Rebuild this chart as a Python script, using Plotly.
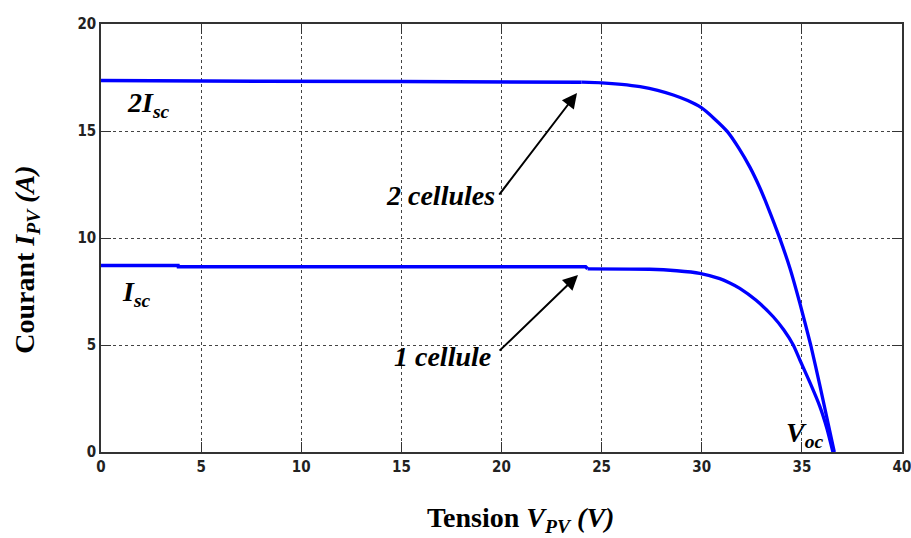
import plotly.graph_objects as go

# Data
v_two = [0, 4, 7.9, 8.0, 15, 20, 24, 25, 26.0, 26.92, 27.8, 28.58, 29.3, 29.96, 30.6, 31.28, 31.85, 32.41,
         32.9, 33.32, 33.87, 34.4, 34.9, 35.44, 35.9, 36.62]
i_two = [17.36, 17.36, 17.36, 17.32, 17.31, 17.3, 17.28, 17.25, 17.18, 17.07, 16.9, 16.68, 16.42, 16.1, 15.6,
         14.97, 14.2, 13.3, 12.35, 11.4, 10.05, 8.6, 6.95, 5.0, 3.1, 0.0]

v_one = [0, 3.85, 3.86, 10, 20, 24.2, 24.3, 27.4, 28.75, 29.9, 30.9, 31.4, 31.9, 32.7, 33.57, 34.1, 34.57,
         34.9, 35.4, 35.9, 36.25, 36.55]
i_one = [8.71, 8.71, 8.66, 8.66, 8.66, 8.66, 8.56, 8.54, 8.47, 8.35, 8.1, 7.9, 7.65, 7.1, 6.32, 5.7, 5.0,
         4.3, 3.25, 2.12, 1.1, 0.0]

x_ticks = [0, 5, 10, 15, 20, 25, 30, 35, 40]
y_ticks = [0, 5, 10, 15, 20]

serif = "Liberation Serif, Times New Roman, serif"
narrow = "DejaVu Sans Condensed, Arial Narrow, sans-serif"

fig = go.Figure()
# flat part drawn straight, knee drawn smooth
for vs, cs, k in [(v_two, i_two, 6), (v_one, i_one, 6)]:
    fig.add_trace(go.Scatter(x=vs[:k + 1], y=cs[:k + 1], mode="lines",
                             line=dict(color="#0000ff", width=3.5), showlegend=False))
    fig.add_trace(go.Scatter(x=vs[k:], y=cs[k:], mode="lines",
                             line=dict(color="#0000ff", width=3.3, shape="spline", smoothing=0.6),
                             showlegend=False))

def label(x, y, text, size=28):
    fig.add_annotation(x=x, y=y, xref="x", yref="y", text=text, showarrow=False,
                       font=dict(family=serif, size=size, color="black"))

label(2.35, 16.25, "<b><i>2I<sub>sc</sub></i></b>")
label(1.75, 7.4, "<b><i>I<sub>sc</sub></i></b>")
label(16.95, 12.0, "<b><i>2 cellules</i></b>")
label(17.05, 4.45, "<b><i>1 cellule</i></b>")
label(35.15, 0.8, "<b><i>V<sub>oc</sub></i></b>")

for tip, tail in [((23.77, 16.78), (19.83, 11.96)), ((23.82, 8.27), (19.83, 4.67))]:
    fig.add_annotation(x=tip[0], y=tip[1], ax=tail[0], ay=tail[1],
                       xref="x", yref="y", axref="x", ayref="y",
                       text="", showarrow=True, arrowhead=2, arrowsize=1.5,
                       arrowwidth=2, arrowcolor="black")

# Axis titles (placed as in the reference, slightly off-centre)
fig.add_annotation(x=0.524, y=-0.158, xref="paper", yref="paper", showarrow=False,
                   xanchor="center", yanchor="middle",
                   text="<b>Tension <i>V<sub>PV</sub> (V)</i></b>",
                   font=dict(family=serif, size=28, color="black"))
fig.add_annotation(x=-0.0924, y=0.449, xref="paper", yref="paper", showarrow=False,
                   xanchor="center", yanchor="middle",
                   textangle=-90, text="<b>Courant <i>I<sub>PV</sub> (A)</i></b>",
                   font=dict(family=serif, size=28, color="black"))

common = dict(showgrid=True, gridcolor="#444444", griddash="dot", gridwidth=1,
              showline=True, linecolor="#333333", linewidth=1.5, mirror="ticks",
              ticks="inside", ticklen=10, tickcolor="#333333", zeroline=False,
              automargin=False, ticklabeloverflow="allow",
              tickfont=dict(family=narrow, size=15, color="#222222"))

fig.update_xaxes(range=[0, 40], tickvals=x_ticks, ticktext=["<b>%d</b>" % t for t in x_ticks], **common)
fig.update_yaxes(range=[0, 20], tickvals=y_ticks, ticktext=["<b>%d</b>" % t for t in y_ticks], **common)

fig.update_layout(width=911, height=538, margin=dict(l=101, r=9, t=24, b=86),
                  plot_bgcolor="white", paper_bgcolor="white")

fig.write_html("out.html")
